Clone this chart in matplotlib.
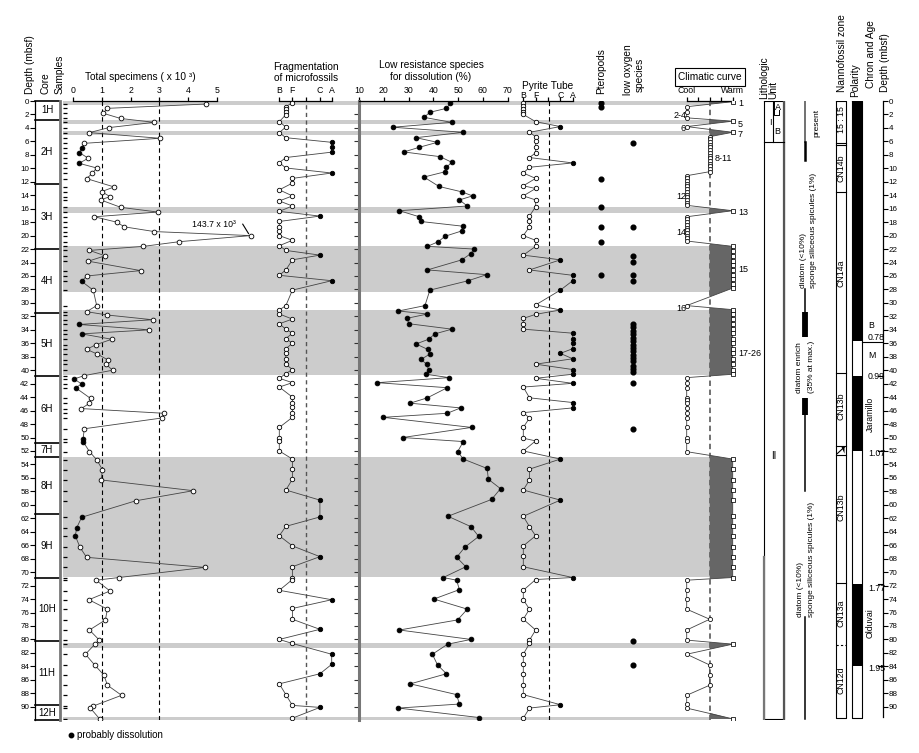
import numpy as np
import matplotlib
matplotlib.use("Agg")
import matplotlib.pyplot as plt

plt.rcParams['font.family'] = ['Liberation Sans', 'DejaVu Sans']

# ---------------- data ----------------
core_names = ['1H', '2H', '3H', '4H', '5H', '6H', '7H', '8H', '9H', '10H', '11H', '12H']
core_tops = [0.0, 2.82, 12.4, 22.0, 31.45, 40.8, 50.75, 52.9, 61.4, 70.8, 80.3, 89.8]
core_bottom = 92.0

band_tops = [0.0, 2.8, 4.4, 15.7, 21.6, 31.1, 52.9, 80.5, 91.5]
band_bottoms = [0.6, 3.4, 5.0, 16.6, 28.4, 40.7, 70.7, 81.3, 92.0]

tot_depth = [0.45, 1.09, 1.83, 2.6, 3.17, 3.96, 4.7, 5.54, 6.29, 6.98,
             7.67, 8.5, 9.26, 9.95, 10.74, 11.53, 12.77, 13.47, 14.2, 14.7,
             15.8, 16.5, 17.2, 18.0, 18.7, 19.4, 20.0, 20.9, 21.6, 22.2,
             23.0, 23.8, 25.2, 26.0, 26.8, 28.1, 30.4, 31.3, 31.8, 32.5,
             33.2, 34.0, 34.6, 35.4, 36.2, 36.9, 37.6, 38.5, 39.1, 40.0,
             40.8, 41.3, 42.05, 42.6, 44.2, 44.9, 45.7, 46.4, 47.1, 48.7,
             50.2, 50.6, 52.1, 53.3, 54.8, 56.3, 57.9, 59.4, 61.85, 63.4,
             64.6, 66.3, 67.8, 69.3, 70.8, 71.2, 72.8, 74.1, 75.5, 77.1,
             78.6, 80.1, 80.7, 82.2, 83.8, 85.3, 86.8, 88.3, 89.9, 90.2, 91.8]
tot_value = [4.61, 1.20, 1.06, 1.66, 2.82, 1.24, 0.58, 3.02, 0.40, 0.31,
             0.23, 0.54, 0.22, 0.83, 0.68, 0.48, 1.43, 1.00, 1.29, 0.97,
             1.66, 2.94, 0.75, 1.52, 1.79, 2.82, 143.7, 3.69, 2.44, 0.58,
             1.12, 0.54, 2.35, 0.48, 0.31, 0.71, 0.83, 0.48, 1.20, 2.76,
             0.22, 2.65, 0.31, 1.35, 0.81, 0.48, 0.85, 1.23, 1.15, 1.38,
             0.40, 0.05, 0.31, 0.10, 0.62, 0.58, 0.30, 3.16, 3.08, 0.40,
             0.36, 0.36, 0.58, 0.83, 1.03, 0.98, 4.17, 2.18, 0.31, 0.14,
             0.09, 0.25, 0.48, 4.57, 1.60, 0.81, 1.29, 0.56, 1.20, 1.13,
             0.58, 0.92, 0.77, 0.44, 0.76, 1.08, 1.20, 1.69, 0.71, 0.61, 0.93]
tot_dissolution_depths = [6.98, 7.67, 9.26, 26.8, 33.2, 34.6, 41.3, 42.05, 42.6,
                          50.2, 50.6, 61.85, 63.4, 64.6]
tot_offscale_label = '143.7 x 10\u00b3'

frag_depth = [0.25, 0.84, 1.24, 1.63, 2.03, 3.07, 3.86, 4.7, 5.45, 6.14,
              6.88, 7.6, 8.4, 9.16, 9.95, 10.7, 11.5, 12.2, 13.2, 14.1,
              14.85, 15.6, 16.4, 17.1, 17.9, 18.7, 19.3, 20.0, 20.7, 21.5,
              22.2, 22.9, 23.6, 25.1, 25.9, 26.7, 28.1, 30.4, 31.05, 31.65,
              32.4, 33.1, 33.9, 34.5, 35.3, 36.0, 36.8, 37.5, 38.4, 39.1,
              39.9, 40.5, 41.2, 41.85, 42.5, 44.0, 44.8, 45.5, 46.3, 47.0,
              48.5, 50.1, 50.5, 52.0, 53.2, 54.7, 56.2, 57.8, 59.3, 61.8,
              63.2, 64.6, 66.1, 67.7, 69.2, 70.8, 71.1, 72.7, 74.1, 75.4,
              77.0, 78.5, 80.0, 80.6, 82.2, 83.7, 85.1, 86.6, 88.2, 89.8,
              90.1, 91.7]
frag_value = [1.0, 0.5, 0.5, 0.5, 0.5, 0.0, 0.5, 0.0, 0.5, 4.0,
              4.0, 4.0, 0.5, 0.0, 0.5, 4.0, 1.0, 1.0, 0.0, 1.0,
              0.0, 1.0, 0.0, 3.1, 0.0, 0.0, 0.0, 0.0, 1.0, 0.0,
              0.5, 3.1, 1.0, 0.5, 0.0, 4.0, 1.0, 0.5, 0.0, 0.0,
              1.0, 0.0, 0.5, 1.0, 0.5, 1.0, 0.5, 0.5, 0.5, 0.5,
              1.0, 0.5, 0.0, 1.0, 0.0, 1.0, 1.0, 1.0, 1.0, 1.0,
              0.0, 0.0, 0.0, 0.0, 1.0, 1.0, 1.0, 0.5, 3.1, 3.1,
              0.5, 0.0, 1.0, 3.1, 1.0, 1.0, 1.0, 0.0, 4.0, 1.0,
              1.0, 3.1, 0.0, 1.0, 4.0, 4.0, 3.1, 0.0, 0.5, 1.0,
              3.1, 1.0]
frag_ticks = [0, 1, 2, 3.1, 4]
frag_labels = ['B', 'F', '', 'C', 'A']

lr_depth = [0.35, 1.09, 1.68, 2.43, 3.17, 3.9, 4.65, 5.45, 6.14, 6.88,
            7.57, 8.27, 9.1, 9.85, 10.5, 11.3, 12.7, 13.5, 14.1, 14.7,
            15.6, 16.3, 17.2, 17.9, 18.6, 19.3, 20.1, 20.9, 21.6, 22.0,
            22.7, 23.6, 25.1, 25.8, 26.7, 28.1, 30.4, 31.2, 31.65, 32.3,
            33.1, 33.9, 34.6, 35.4, 36.1, 36.9, 37.6, 38.4, 39.1, 39.9,
            40.6, 41.1, 41.85, 42.6, 44.1, 44.9, 45.6, 46.4, 47.0, 48.5,
            50.0, 50.6, 52.1, 53.2, 54.6, 56.2, 57.6, 59.2, 61.7, 63.25,
            64.7, 66.3, 67.8, 69.2, 70.8, 71.2, 72.6, 74.0, 75.5, 77.1,
            78.6, 80.0, 80.7, 82.2, 83.8, 85.1, 86.6, 88.2, 89.6, 90.2, 91.6]
lr_value = [46.7, 45.3, 38.6, 36.2, 47.4, 23.6, 52.1, 33.0, 41.6, 34.3,
            28.1, 42.7, 47.4, 45.3, 44.9, 36.2, 42.3, 51.5, 55.8, 50.5,
            53.7, 26.3, 34.3, 34.9, 51.8, 51.5, 44.7, 42.0, 37.6, 56.4,
            55.0, 51.5, 37.6, 61.5, 54.1, 38.6, 36.6, 25.9, 37.6, 29.2,
            30.3, 47.5, 40.6, 38.1, 33.0, 37.7, 38.6, 35.0, 37.3, 38.1,
            37.0, 46.4, 17.4, 45.6, 37.6, 30.6, 51.0, 45.6, 19.8, 55.4,
            27.6, 52.1, 49.8, 52.1, 61.7, 62.2, 67.1, 63.5, 45.9, 55.2,
            58.3, 52.7, 49.4, 53.1, 44.0, 49.4, 50.5, 40.2, 53.7, 49.8,
            26.3, 55.2, 45.8, 39.6, 41.7, 45.3, 30.7, 49.4, 50.5, 25.9, 58.4]
lr_ticks = [10, 20, 30, 40, 50, 60, 70]

py_depth = [0.25, 0.75, 1.2, 1.6, 2.0, 3.07, 3.8, 4.65, 5.3, 6.0,
            6.9, 7.7, 8.4, 9.2, 9.85, 10.7, 11.5, 12.6, 13.0, 14.1,
            14.7, 15.7, 17.1, 17.9, 18.7, 20.0, 20.7, 21.6, 22.9, 23.6,
            25.1, 25.9, 26.7, 28.1, 30.3, 31.05, 31.7, 32.3, 33.1, 33.9,
            34.5, 35.3, 36.0, 36.8, 37.5, 38.3, 39.1, 39.9, 40.6, 41.2,
            41.95, 42.5, 44.1, 44.8, 45.6, 46.3, 47.1, 48.5, 50.1, 50.5,
            52.0, 53.2, 54.7, 56.3, 57.8, 59.3, 61.7, 63.25, 64.6, 66.1,
            67.6, 69.2, 70.8, 71.1, 72.7, 74.1, 75.5, 77.0, 78.6, 80.1,
            80.6, 82.2, 83.6, 85.1, 86.7, 88.2, 89.7, 90.2, 91.7]
py_value = [0, 0, 0, 0, 0, 1, 3, 0.5, 1, 1,
            1, 1, 0.5, 4, 0.5, 0, 1, 0, 1, 0,
            1, 1, 0.5, 0.5, 0.5, 0, 1, 1, 0, 3,
            0.5, 4, 4, 3, 1, 3, 1, 0, 0, 0,
            4, 4, 4, 4, 3, 4, 1, 4, 4, 1,
            4, 0, 0.5, 4, 4, 0, 0.5, 0, 0, 1,
            0, 3, 0.5, 0.5, 0, 3, 0, 0.5, 1, 0,
            0, 0, 4, 1, 0, 0, 0.5, 0, 1, 0.5,
            0.5, 0, 0, 0, 0, 0, 3, 0.5, 0]
py_ticks = [0, 1, 2, 3, 4]
py_labels = ['B', 'F', '', 'C', 'A']

pteropod_depths = [0.35, 0.94, 11.6, 15.8, 18.7, 20.9, 25.9]
lowox_depths = [6.3, 18.7, 23.0, 23.9, 25.9, 26.7,
                33.1, 33.6, 34.1, 34.6, 35.2, 35.7, 36.2, 36.7, 37.2, 37.7,
                38.2, 38.7, 39.3, 39.8, 40.3, 41.95, 48.8, 80.2, 83.8]

clim_depth = [0.1, 0.85, 1.6, 2.5, 3.0, 3.8, 4.65,
              5.3, 5.7, 6.1, 6.5, 6.9, 7.3, 7.7, 8.1, 8.5, 8.9, 9.3, 9.7, 10.1, 10.5,
              11.1, 11.5, 11.9, 12.3, 12.7, 13.1, 13.5, 13.9, 14.3, 14.7, 15.1, 15.5,
              16.3,
              17.2, 17.6, 18.0, 18.4, 18.8, 19.2, 19.6, 20.0, 20.4, 20.8,
              21.6, 22.3, 23.0, 23.7, 24.4, 25.1, 25.8, 26.5, 27.2, 27.8,
              30.4,
              31.0, 31.7, 32.4, 33.1, 33.9, 34.5, 35.3, 36.0, 36.8, 37.5, 38.3, 39.1, 39.9, 40.6,
              41.1, 41.95, 42.6, 44.1, 44.4, 44.9, 45.6, 46.3, 47.1, 48.5, 50.0, 50.5, 52.1,
              53.2, 54.7, 56.3, 57.8, 59.3, 61.7, 63.2, 64.7, 66.2, 67.7, 69.2, 70.8,
              71.2, 72.7, 74.0, 75.5, 77.0, 78.6, 80.1, 80.7, 82.2, 83.8, 85.3, 86.8,
              88.3, 89.6, 90.2, 91.8]
clim_value = [4, 0, 0, 0, 4, 0, 4,
              2, 2, 2, 2, 2, 2, 2, 2, 2, 2, 2, 2, 2, 2,
              0, 0, 0, 0, 0, 0, 0, 0, 0, 0, 0, 0,
              4,
              0, 0, 0, 0, 0, 0, 0, 0, 0, 0,
              4, 4, 4, 4, 4, 4, 4, 4, 4, 4,
              0,
              4, 4, 4, 4, 4, 4, 4, 4, 4, 4, 4, 4, 4, 4,
              0, 0, 0, 0, 0, 0, 0, 0, 0, 0, 0, 0, 0,
              4, 4, 4, 4, 4, 4, 4, 4, 4, 4, 4, 4,
              0, 0, 0, 0, 2, 0, 0, 4, 0, 2, 2, 2,
              0, 0, 0, 4]
clim_ticks = [0, 1, 2, 3, 4]
clim_tick_labels = ['Cool', '', '', '', 'Warm']
clim_labels = ['1', '2-4', '5', '6', '7', '8-11', '12', '13', '14', '15', '16', '17-26']
clim_label_depth = [0.3, 2.1, 3.5, 4.1, 5.0, 8.5, 14.2, 16.5, 19.6, 25.1, 30.8, 37.5]
clim_label_side = ['R', 'L', 'R', 'L', 'R', 'M', 'L', 'R', 'L', 'R', 'L', 'R']

nanno_names = ['15 : 15', 'CN14b', 'CN14a', 'CN13b', 'CN13b', 'CN13a', 'CN12d']
nanno_centers = [2.8, 10.0, 25.6, 45.4, 60.3, 76.1, 86.0]
nanno_bounds = [6.2, 6.5, 13.5, 40.4, 51.2, 52.6, 71.6]
nanno_dashed_bound = 80.8

polarity_normal_top = [0.0, 40.85, 71.8]
polarity_normal_bottom = [35.7, 51.95, 83.9]
chron_text = ['B', '0.78', 'M', '0.99', '1.07', '1.77', '1.95']
chron_depth = [33.3, 35.1, 37.8, 40.9, 52.3, 72.4, 84.3]
chron_rot_text = ['Jaramillo', 'Olduvai']
chron_rot_depth = [46.5, 77.6]
chron_bounds = [35.8, 40.85, 51.95, 71.8, 83.9]

silica_thin = [(27.9, 31.4), (46.7, 58.0), (76.7, 91.8)]
silica_thick = [(31.4, 35.0), (44.1, 46.7)]

# ---------------- layout ----------------
W, H = 920, 753
Y0, Y1 = 101.0, 720.2
DMAX = 92.0
BAND = '#cccccc'
LINE = '#444444'
FS_T = 6.3

fig = plt.figure(figsize=(W / 100, H / 100), dpi=100)
fig.patch.set_facecolor('white')


def depth_axes(x0, x1, z=2):
    ax = fig.add_axes([x0 / W, 1 - Y1 / H, (x1 - x0) / W, (Y1 - Y0) / H])
    ax.set_ylim(DMAX, 0)
    ax.patch.set_visible(False)
    ax.set_zorder(z)
    for s in ax.spines.values():
        s.set_visible(False)
    ax.set_xticks([])
    ax.set_yticks([])
    return ax


def scaled_axes(x0, x1, pa, va, pb, vb, z=2):
    ax = depth_axes(x0, x1, z)
    k = (vb - va) / (pb - pa)
    ax.set_xlim(va + (x0 - pa) * k, va + (x1 - pa) * k)
    return ax


def top_scale(ax, lo, hi, ticks, labels, pad=1.5, length=3.0, fs=FS_T):
    sp = ax.spines['top']
    sp.set_visible(True)
    sp.set_bounds(lo, hi)
    sp.set_linewidth(0.9)
    ax.xaxis.set_ticks_position('top')
    ax.set_xticks(ticks)
    ax.set_xticklabels(labels)
    ax.tick_params(axis='x', direction='out', length=length, width=0.9, pad=pad, labelsize=fs)


def series(ax, v, d, filled, mk='o', ms=3.4):
    v = np.asarray(v, float)
    d = np.asarray(d, float)
    f = np.asarray(filled, bool)
    ax.plot(v, d, '-', color=LINE, lw=0.6, zorder=2)
    ax.plot(v[~f], d[~f], mk, ms=ms, mfc='white', mec='black', mew=0.6, ls='none', zorder=3)
    ax.plot(v[f], d[f], mk, ms=ms, mfc='black', mec='black', mew=0.6, ls='none', zorder=3)


# background (x in pixels, y in depth)
bg = depth_axes(0, W, z=0)
bg.set_xlim(0, W)
for a, b in zip(band_tops, band_bottoms):
    bg.fill_betweenx([a, b], 63, 710, color=BAND, lw=0, zorder=0)

# overlay for header text (pixel coordinates)
ov = fig.add_axes([0, 0, 1, 1])
ov.set_xlim(0, W)
ov.set_ylim(H, 0)
ov.axis('off')
ov.set_zorder(10)

# ---- left depth axis and core column ----
axL = depth_axes(35, 60, z=3)
axL.spines['left'].set_visible(True)
axL.spines['left'].set_bounds(0, DMAX)
axL.spines['left'].set_linewidth(0.9)
axL.set_yticks(np.arange(0, 91, 2))
axL.tick_params(axis='y', direction='out', length=3.3, width=0.8, pad=0.8, labelsize=5.8)
axL.set_xlim(35, 60)
for t in core_tops + [core_bottom]:
    axL.plot([35, 59], [t, t], color='black', lw=1.2, clip_on=False)
axL.plot([59.6, 59.6], [0, DMAX], color='#777777', lw=2.0, clip_on=False)
core_bounds = core_tops + [core_bottom]
for i, name in enumerate(core_names):
    mid = 0.5 * (core_bounds[i] + core_bounds[i + 1])
    axL.text(47, mid, name, ha='center', va='center', fontsize=7)

# samples ticks
bg.hlines(tot_depth, 63, 67.5, color='black', lw=0.9)

# ---- total specimens ----
axT = scaled_axes(63, 262, 72.7, 0, 217.3, 5)
top_scale(axT, 0, 5, [0, 1, 2, 3, 4, 5], ['0', '1', '2', '3', '4', '5'])
for xv in (1, 3):
    axT.axvline(xv, color='black', lw=0.8, ls=(0, (4, 3)), zorder=1)
tv = np.minimum(np.asarray(tot_value), 6.15)
series(axT, tv, tot_depth, np.isin(tot_depth, tot_dissolution_depths))
axT.text(4.12, 18.4, tot_offscale_label, fontsize=6.3, va='center', ha='left')
axT.plot([5.88, 6.08], [18.3, 19.7], color='black', lw=0.8)

# ---- fragmentation ----
axF = scaled_axes(270, 345, 279.3, 0, 331.7, 4)
top_scale(axF, 0, 4, frag_ticks, frag_labels)
axF.axvline(2.05, color='#555555', lw=1.0, ls=(0, (3, 2.5)), zorder=1)
series(axF, frag_value, frag_depth, np.asarray(frag_value) >= 3, ms=3.2)

# ---- low resistance species ----
axR = scaled_axes(359, 515, 359, 10, 507.7, 70)
top_scale(axR, 10, 70, lr_ticks, [str(t) for t in lr_ticks])
axR.spines['left'].set_visible(True)
axR.spines['left'].set_color('#777777')
axR.spines['left'].set_linewidth(2.2)
axR.set_yticks(np.arange(2, 92, 2))
axR.set_yticklabels([])
axR.tick_params(axis='y', direction='out', length=3.5, width=0.8, color='#333333')
series(axR, lr_value, lr_depth, np.ones(len(lr_value), bool), ms=3.4)

# ---- pyrite tube ----
axP = scaled_axes(515, 590, 523.3, 0, 572.7, 4)
top_scale(axP, 0, 4, py_ticks, py_labels, pad=-2.2, length=3.0)
axP.axvline(2.05, color='black', lw=0.8, ls=(0, (4, 3)), zorder=1)
series(axP, py_value, py_depth, np.asarray(py_value) >= 3, ms=3.2)

# ---- pteropods / low oxygen ----
bg.plot(np.full(len(pteropod_depths), 601.0), pteropod_depths, 'o', ms=3.4, color='black', zorder=3)
bg.plot(np.full(len(lowox_depths), 633.3), lowox_depths, 'o', ms=3.4, color='black', zorder=3)

# ---- climatic curve ----
axC = scaled_axes(670, 760, 686.7, 0, 732.7, 4)
top_scale(axC, 0, 4, clim_ticks, clim_tick_labels)
cv = np.asarray(clim_value, float)
cd = np.asarray(clim_depth, float)
axC.fill_betweenx(cd, 2, cv, where=cv >= 2, interpolate=True, color='#666666', lw=0, zorder=1)
axC.axvline(2, color='#666666', lw=1.3, ls=(0, (3, 2)), zorder=1.5)
axC.plot(cv, cd, '-', color=LINE, lw=0.6, zorder=2)
warm = cv >= 4
axC.plot(cv[~warm], cd[~warm], 'o', ms=3.0, mfc='white', mec='black', mew=0.55, ls='none', zorder=3)
axC.plot(cv[warm], cd[warm], 's', ms=2.6, mfc='white', mec='black', mew=0.55, ls='none', zorder=3)
for lab, dd, side in zip(clim_labels, clim_label_depth, clim_label_side):
    if side == 'R':
        axC.text(4.45, dd, lab, ha='left', va='center', fontsize=6.5)
    elif side == 'L':
        axC.text(-0.05, dd, lab, ha='right', va='center', fontsize=6.5)
    else:
        axC.text(2.4, dd, lab, ha='left', va='center', fontsize=6.5)

# ---- lithologic unit ----
bg.plot([764, 784, 784, 764, 764], [0, 0, 91.8, 91.8, 0], color='black', lw=0.8)
bg.plot([784, 784], [0, 91.8], color='#555555', lw=1.6)
bg.plot([764, 764], [67.8, 91.8], color='#777777', lw=1.6)
bg.plot([764, 784], [6.05, 6.05], color='black', lw=0.8)
bg.plot([773, 773], [0, 6.05], color='black', lw=0.8)
bg.plot([774.5, 774.5, 779.5, 779.5], [0.2, 2.1, 2.1, 1.3], color='black', lw=0.7)
bg.text(770.5, 3.2, 'I', ha='center', va='center', fontsize=6.5)
bg.text(777.5, 1.0, 'A', ha='center', va='center', fontsize=6.5)
bg.text(777.5, 4.5, 'B', ha='center', va='center', fontsize=6.5)
bg.text(774, 52.8, 'II', ha='center', va='center', fontsize=7)

# ---- siliceous column ----
bg.plot([805.5, 805.5], [0, 6.05], color='#666666', lw=1.3)
bg.plot([805.5, 805.5], [6.05, 8.8], color='black', lw=1.8)
for a, b in silica_thin:
    bg.plot([805.5, 805.5], [a, b], color='black', lw=1.1)
for a, b in silica_thick:
    bg.plot([805.5, 805.5], [a, b], color='black', lw=4.2, solid_capstyle='butt')
bg.text(817, 3.3, 'present', rotation=90, ha='center', va='center', fontsize=6)
bg.text(803.3, 27.8, 'diatom (<10%)', rotation=90, ha='center', va='bottom', fontsize=6)
bg.text(814, 27.8, 'sponge siliceous spicules (1%)', rotation=90, ha='center', va='bottom', fontsize=6)
bg.text(799.5, 43.4, 'diatom enrich', rotation=90, ha='center', va='bottom', fontsize=6)
bg.text(811.5, 43.4, '(35% at max.)', rotation=90, ha='center', va='bottom', fontsize=6)
bg.text(800.5, 76.6, 'diatom (<10%)', rotation=90, ha='center', va='bottom', fontsize=6)
bg.text(811.7, 76.6, 'sponge siliceous spicules (1%)', rotation=90, ha='center', va='bottom', fontsize=6)

# ---- nannofossil zone ----
NX0, NX1 = 835.7, 846.0
bg.plot([NX0, NX1, NX1, NX0, NX0], [0, 0, 91.6, 91.6, 0], color='black', lw=0.8)
for b in nanno_bounds:
    bg.plot([NX0, NX1], [b, b], color='black', lw=0.8)
bg.plot([NX0, NX1], [nanno_dashed_bound] * 2, color='black', lw=0.8, ls=(0, (2, 2)))
bg.plot([NX0 + 1.5, NX1 - 1.5], [52.4, 51.4], color='black', lw=0.8)
bg.fill([NX1 - 1.5, NX1 - 1.5, NX1 - 4.5], [51.4, 52.4, 51.4], color='black', lw=0)
for name, c in zip(nanno_names, nanno_centers):
    bg.text(0.5 * (NX0 + NX1) + 0.3, c, name, rotation=90, ha='center', va='center', fontsize=6.3)

# ---- polarity ----
PX0, PX1 = 851.7, 861.7
for a, b in zip(polarity_normal_top, polarity_normal_bottom):
    bg.fill_betweenx([a, b], PX0, PX1, color='black', lw=0)
bg.plot([PX0, PX1, PX1, PX0, PX0], [0, 0, 91.6, 91.6, 0], color='black', lw=0.8)

# ---- chron & age ----
for t, dd in zip(chron_text, chron_depth):
    bg.text(868, dd, t, ha='left', va='center', fontsize=6.3)
for t, dd in zip(chron_rot_text, chron_rot_depth):
    bg.text(870.5, dd, t, rotation=90, ha='center', va='center', fontsize=6.3)
bg.plot([862, 882], [chron_bounds[0]] * 2, color='black', lw=0.8)
for b in chron_bounds[1:]:
    bg.plot([878.5, 882.7], [b, b], color='black', lw=0.8)

# ---- right depth axis ----
axD = depth_axes(870, 883, z=3)
axD.spines['right'].set_visible(True)
axD.spines['right'].set_bounds(0, 91.5)
axD.spines['right'].set_linewidth(0.9)
axD.yaxis.set_ticks_position('right')
axD.set_yticks(np.arange(0, 91, 2))
axD.tick_params(axis='y', direction='out', length=3.3, width=0.8, pad=0.8, labelsize=5.8)

# ---- headers ----
HF = 7.3
ov.text(30, 94, 'Depth (mbsf)', rotation=90, ha='center', va='bottom', fontsize=HF)
ov.text(45.5, 94, 'Core', rotation=90, ha='center', va='bottom', fontsize=HF)
ov.text(60, 94, 'Samples', rotation=90, ha='center', va='bottom', fontsize=HF)
ov.text(140, 77, 'Total specimens ( x 10 \u00b3)', ha='center', va='center', fontsize=HF)
ov.text(306, 66.5, 'Fragmentation', ha='center', va='center', fontsize=HF)
ov.text(306, 78, 'of microfossils', ha='center', va='center', fontsize=HF)
ov.text(431, 65, 'Low resistance species', ha='center', va='center', fontsize=HF)
ov.text(431, 76.5, 'for dissolution (%)', ha='center', va='center', fontsize=HF)
ov.text(548, 86, 'Pyrite Tube', ha='center', va='center', fontsize=HF)
ov.text(601, 94, 'Pteropods', rotation=90, ha='center', va='bottom', fontsize=HF)
ov.text(628, 95, 'low oxygen', rotation=90, ha='center', va='bottom', fontsize=HF)
ov.text(640, 58, 'species', rotation=90, ha='center', va='top', fontsize=HF)
ov.text(710, 77, 'Climatic curve', ha='center', va='center', fontsize=HF,
        bbox=dict(boxstyle='square,pad=0.35', fc='white', ec='black', lw=0.8))
ov.text(764, 99, 'Lithologic', rotation=90, ha='center', va='bottom', fontsize=HF)
ov.text(773, 99, 'Unit', rotation=90, ha='center', va='bottom', fontsize=HF)
ov.text(842, 92, 'Nannofossil zone', rotation=90, ha='center', va='bottom', fontsize=HF)
ov.text(855.5, 97, 'Polarity', rotation=90, ha='center', va='bottom', fontsize=HF)
ov.text(871, 88, 'Chron and Age', rotation=90, ha='center', va='bottom', fontsize=HF)
ov.text(885.5, 92, 'Depth (mbsf)', rotation=90, ha='center', va='bottom', fontsize=HF)

# legend
ov.plot([71], [735], 'o', ms=3.2, color='black')
ov.text(77, 735, 'probably dissolution', ha='left', va='center', fontsize=7)

fig.savefig('out.png', dpi=100, facecolor='white')
